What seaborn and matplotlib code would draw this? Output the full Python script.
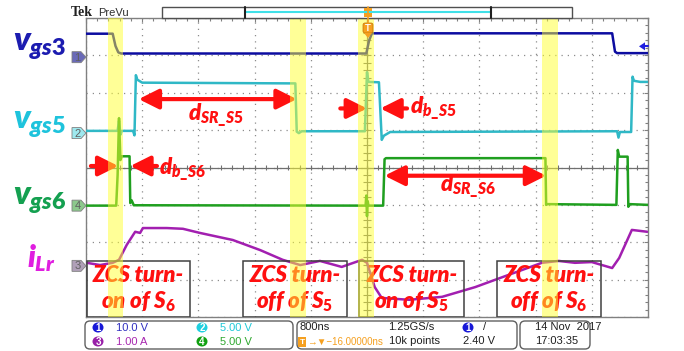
import matplotlib
matplotlib.use('Agg')
import matplotlib.pyplot as plt
import seaborn as sns
from matplotlib.patches import Rectangle, Polygon, FancyBboxPatch, Ellipse
from matplotlib.ticker import MultipleLocator

# ── DATA (time in us, 800 ns/div; level in screen divisions) ──
t_vgs3 = [-4.0, -3.62, -3.58, -3.54, -3.50, -0.01, 0.03, 0.07, 3.49, 3.53, 3.56, 4.0]
y_vgs3 = [3.58, 3.58, 3.25, 3.08, 3.05, 3.05, 3.40, 3.59, 3.59, 3.10, 3.06, 3.06]

t_vgs5 = [-4.0, -3.55, -3.53, -3.51, -3.49, -3.33, -3.31, -3.29, -3.27, -3.20, -1.02, -1.00,
          -0.97, -0.93, -0.03, 0.00, 0.02, 0.17, 0.21, 0.24, 0.33, 3.56, 3.58, 3.60, 3.76,
          3.78, 3.80, 3.89, 4.0]
y_vgs5 = [0.98, 0.98, 1.25, 0.88, 0.98, 0.98, 0.86, 2.47, 2.35, 2.27, 2.25, 0.96,
          0.92, 0.97, 0.97, 2.55, 2.29, 2.28, 0.74, 0.85, 0.95, 0.97, 0.80, 0.95, 0.95,
          2.43, 2.32, 2.29, 2.29]

t_vgs6 = [-4.0, -3.57, -3.55, -3.53, -3.51, -3.49, -3.38, -3.37, -3.35, -3.32, -0.02, -0.01,
          0.0, 0.01, 0.02, 0.23, 0.25, 0.27, 2.54, 2.55, 2.57, 3.55, 3.57, 3.59, 3.71, 3.72,
          3.74, 4.0]
y_vgs6 = [-1.02, -1.02, -0.2, 1.32, 0.20, 0.30, 0.30, -0.95, -0.88, -1.01, -1.02, -0.75,
          -1.3, -0.9, -1.02, -1.02, 0.22, 0.25, 0.25, -1.0, -0.98, -1.0, 0.47, 0.29, 0.29, -1.05,
          -0.98, -1.0]

t_ilr = [-3.99, -3.80, -3.62, -3.53, -3.42, -3.30, -3.23, -3.19, -2.85, -2.62, -2.38, -1.91,
         -1.52, -1.20, -0.95, -0.67, -0.36, -0.07, 0.00, 0.11, 0.21, 0.60, 1.07, 1.54, 2.02,
         2.49, 2.73, 2.96, 3.20, 3.49, 3.59, 3.77, 3.99]
y_ilr = [-2.55, -2.61, -2.55, -2.47, -2.07, -1.72, -1.75, -1.62, -1.62, -1.64, -1.75, -1.94,
         -2.21, -2.47, -2.61, -2.50, -2.66, -2.47, -2.55, -3.20, -3.49, -3.54, -3.46, -3.20, -2.87,
         -2.55, -2.50, -2.55, -2.53, -2.69, -2.42, -1.67, -1.72]

ch_labels = [r'$\mathit{v_{gs3}}$', r'$\mathit{v_{gs5}}$', r'$\mathit{v_{gs6}}$', r'$\mathit{i_{Lr}}$']
ch_numbers = ['1', '2', '4', '3']
ch_ground = [2.95, 0.92, -1.02, -2.63]

# ZCS windows (us)
band_start = [-3.69, -1.10, -0.13, 2.49]
band_end = [-3.47, -0.87, 0.10, 2.72]
box_start = [-3.99, -1.77, -0.11, 1.85]
box_end = [-2.52, -0.28, 1.38, 3.33]
box_line1 = ['ZCS turn-'] * 4
box_line2 = [r'on of $\mathit{S_6}$', r'off of $\mathit{S_5}$', r'on of $\mathit{S_5}$', r'off of $\mathit{S_6}$']

# status readout
scale_vals = ['10.0 V', '5.00 V', '1.00 A', '5.00 V']

# ── STYLE ──
C = {'ch1': '#0c0ca0', 'ch2': '#2fb8c6', 'ch4': '#1f9f1f', 'ch3': '#a21fb0',
     'l1': '#1c1cb0', 'l2': '#1ec3dc', 'l4': '#14a050', 'l3': '#e01ee0',
     'red': '#ff1010', 'grid': '#8c8c8c', 'orange': '#f5a020'}

sns.set_style('white')
plt.rcParams['font.family'] = ['Lato', 'DejaVu Sans']
plt.rcParams['mathtext.fontset'] = 'custom'
plt.rcParams['mathtext.it'] = 'Lato:italic:heavy'
plt.rcParams['mathtext.rm'] = 'Lato:heavy'
plt.rcParams['mathtext.bf'] = 'Lato:heavy'

W, H = 684, 351
fig = plt.figure(figsize=(W / 100, H / 100), dpi=100)
fig.patch.set_facecolor('white')

ax = fig.add_axes([86 / W, (H - 317) / H, 562 / W, 299 / H])
ax.set_zorder(1)
ax.set_xlim(-4, 4)
ax.set_ylim(-4, 4)

# graticule
ax.xaxis.set_major_locator(MultipleLocator(0.8))
ax.yaxis.set_major_locator(MultipleLocator(1))
ax.xaxis.set_minor_locator(MultipleLocator(0.16))
ax.yaxis.set_minor_locator(MultipleLocator(0.2))
ax.tick_params(which='both', direction='in', top=True, right=True, labelbottom=False,
               labelleft=False, color='#808080', width=0.8)
ax.tick_params(which='major', length=3)
ax.tick_params(which='minor', length=2.5)
ax.grid(True, which='major', ls=(0, (1, 4)), color=C['grid'], lw=0.9)
for s in ax.spines.values():
    s.set_color('#808080'); s.set_linewidth(1)
ax.axhline(0, color='#707070', lw=0.9, zorder=1)
ax.axvline(0, color='#707070', lw=0.9, zorder=1)
ax.vlines([k * 0.16 for k in range(-25, 26)], -0.07, 0.07, color='#707070', lw=0.8, zorder=1)
ax.hlines([k * 0.2 for k in range(-20, 21)], -0.05, 0.05, color='#707070', lw=0.8, zorder=1)

# traces
traces = [(t_vgs3, y_vgs3, C['ch1']), (t_vgs5, y_vgs5, C['ch2']),
          (t_vgs6, y_vgs6, C['ch4']), (t_ilr, y_ilr, C['ch3'])]
for t, v, col in traces:
    sns.lineplot(x=t, y=v, ax=ax, color=col, lw=1.8, sort=False, estimator=None,
                 legend=False, zorder=4)
ax.set_xlabel(''); ax.set_ylabel('')

# ZCS boxes
for x0, x1, l1, l2 in zip(box_start, box_end, box_line1, box_line2):
    ax.add_patch(Rectangle((x0, -4.0), x1 - x0, 1.5, fill=False, ec='#404040', lw=1.1, zorder=5))
    xc = (x0 + x1) / 2
    ax.text(xc, -2.90, l1, color=C['red'], fontsize=16, fontweight='heavy', fontstyle='italic',
            ha='center', va='center', zorder=7)
    ax.text(xc, -3.58, l2, color=C['red'], fontsize=16, fontweight='heavy', fontstyle='italic',
            ha='center', va='center', zorder=7)

# red arrows
def arrow(x0, x1, y, style):
    ax.annotate('', xy=(x1, y), xytext=(x0, y),
                arrowprops=dict(arrowstyle=style + ',head_length=0.6,head_width=0.3',
                                color=C['red'], lw=3, mutation_scale=20, shrinkA=0, shrinkB=0),
                zorder=8)

arrow(-3.25, -1.00, 1.83, '<|-|>')
arrow(-3.93, -3.54, 0.04, '-|>')
arrow(-2.99, -3.37, 0.04, '-|>')
arrow(-0.38, 0.00, 1.58, '-|>')
arrow(0.57, 0.19, 1.58, '-|>')
arrow(0.25, 2.55, -0.22, '<|-|>')

ann = [(-2.15, 1.38, r'$\mathit{d_{SR\_S5}}$'), (-2.62, -0.07, r'$\mathit{d_{b\_S6}}$'),
       (0.95, 1.56, r'$\mathit{d_{b\_S5}}$'), (1.44, -0.52, r'$\mathit{d_{SR\_S6}}$')]
for x, y, s in ann:
    ax.text(x, y, s, color=C['red'], fontsize=16, ha='center', va='center', zorder=8)

# yellow highlight bands over everything
for a, b in zip(band_start, band_end):
    ax.axvspan(a, b, color='#ffff30', alpha=0.5, lw=0, zorder=10)

# ── OVERLAY in pixel coordinates ──
ov = fig.add_axes([0, 0, 1, 1])
ov.set_zorder(5)
ov.patch.set_alpha(0)
ov.set_xlim(0, W); ov.set_ylim(H, 0)
ov.axis('off')

def gy(d):
    return 167.5 - d * 37.4

# channel labels and ground markers
lab_x = [13, 13, 13, 27]
lab_y = [47, 125, 201, 258]
lab_col = [C['l1'], C['l2'], C['l4'], C['l3']]
lab_size = [24, 24, 24, 22]
mk_face = ['#6a6ab8', '#9ee8ee', '#8cc88c', '#b0a0b8']
for s, x, y, col, fs in zip(ch_labels, lab_x, lab_y, lab_col, lab_size):
    ov.text(x, y, s, color=col, fontsize=fs, ha='left', va='center')
for num, g, fc in zip(ch_numbers, ch_ground, mk_face):
    y = gy(g)
    ov.add_patch(Polygon([(72, y - 5.5), (81, y - 5.5), (86, y), (81, y + 5.5), (72, y + 5.5)],
                         closed=True, fc=fc, ec='#808080', lw=0.6))
    ov.text(77.5, y + 0.5, num, fontsize=8, color='#606060', ha='center', va='center',
            family=['Liberation Sans', 'DejaVu Sans'])

# trigger level marker (right)
yl = gy(3.24)
ov.add_patch(Polygon([(639, yl), (645, yl - 4), (645, yl + 4)], closed=True, fc='#2020e0', ec='none'))
ov.plot([644, 648], [yl, yl], color='#2020e0', lw=1.5)

# top bar
ov.text(71, 12.5, 'Tek', fontsize=10, fontweight='bold', color='#202020', va='center',
        family=['Liberation Serif', 'DejaVu Serif'])
ov.text(98, 12.5, 'PreVu', fontsize=8, color='#303030', va='center', family=['Liberation Sans'])
ov.add_patch(Rectangle((162, 7), 410, 11, fc='white', ec='#505050', lw=1))
ov.plot([245, 491], [11.5, 11.5], color='#40e0e8', lw=1.5)
ov.plot([245, 245], [7, 18], color='#202020', lw=1.5)
ov.plot([491, 491], [7, 18], color='#202020', lw=1.5)
ov.plot([368, 368], [7, 24], color=C['orange'], lw=1.2)
ov.add_patch(Rectangle((364, 8), 8, 9, fc=C['orange'], ec='none'))
ov.add_patch(FancyBboxPatch((363, 23), 10, 10, boxstyle='round,pad=0,rounding_size=2',
                            fc=C['orange'], ec='#c07000', lw=0.5))
ov.text(368, 28.5, 'T', fontsize=7, color='white', ha='center', va='center', fontweight='bold')
ov.add_patch(Polygon([(364, 33), (372, 33), (368, 38)], closed=True, fc=C['orange'], ec='none'))

# bottom status bar
for x0, x1 in [(85, 293), (297, 517), (520, 590)]:
    ov.add_patch(FancyBboxPatch((x0, 321), x1 - x0, 28, boxstyle='round,pad=0,rounding_size=5',
                                fc='white', ec='#606060', lw=1))

sfont = ['Liberation Sans', 'DejaVu Sans']
circ = [('1', 98, 327.5, '#1818d8', '#3030c0'), ('2', 202, 327.5, '#20d0e0', '#20c8d8'),
        ('3', 98, 341.5, '#9820a8', '#a828b0'), ('4', 202, 341.5, '#10a010', '#30a830')]
for (num, cx, cy, fc, tc), val in zip(circ, scale_vals):
    ov.add_patch(Ellipse((cx, cy), 11, 10, fc=fc, ec='none'))
    ov.text(cx, cy + 0.5, num, fontsize=7, color='white', ha='center', va='center', family=sfont,
            fontweight='bold')
    ov.text(cx + 18, cy + 0.5, val, fontsize=8, color=tc, ha='left', va='center', family=sfont)

ov.text(299, 327.5, '800ns', fontsize=8, color='#202020', va='center', family=sfont)
ov.text(388, 327.5, '1.25GS/s', fontsize=8, color='#202020', va='center', family=sfont)
ov.add_patch(Ellipse((468, 327.5), 11, 10, fc='#1818d8', ec='none'))
ov.text(468, 328, '1', fontsize=7, color='white', ha='center', va='center', family=sfont,
        fontweight='bold')
ov.text(483, 327.5, '/', fontsize=8, color='#202020', va='center', family=sfont)
ov.add_patch(Rectangle((298, 336.5), 8, 10, fc=C['orange'], ec='none'))
ov.text(302, 342, 'T', fontsize=6, color='white', ha='center', va='center', family=sfont,
        fontweight='bold')
ov.text(307, 341.5, '→▼−16.00000ns', fontsize=7, color=C['orange'], va='center',
        family=sfont)
ov.text(389, 341.5, '10k points', fontsize=8, color='#202020', va='center', family=sfont)
ov.text(463, 341.5, '2.40 V', fontsize=8, color='#202020', va='center', family=sfont)
ov.text(535, 327.5, '14 Nov  2017', fontsize=8, color='#202020', va='center', family=sfont)
ov.text(535, 341.5, '17:03:35', fontsize=8, color='#202020', va='center', family=sfont)

fig.savefig('out.png', dpi=100, facecolor='white')
